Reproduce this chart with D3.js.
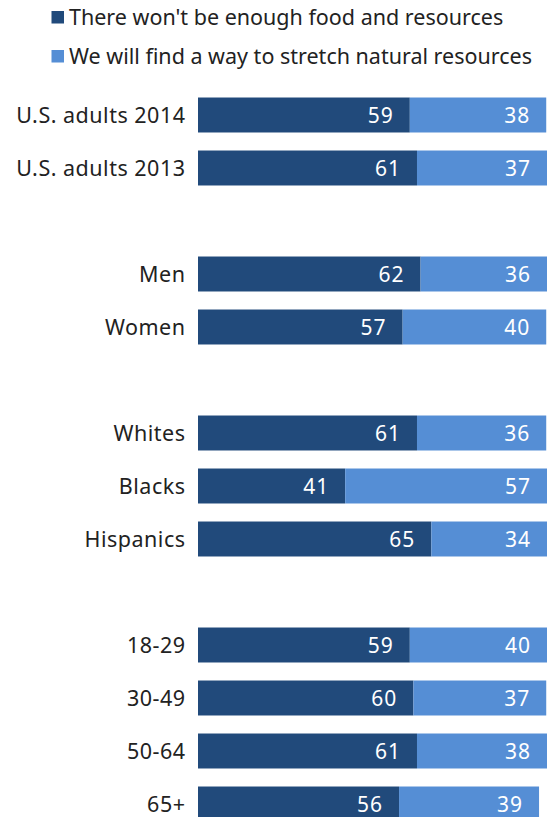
<!DOCTYPE html>
<html><head><meta charset="utf-8">
<script src="https://cdn.jsdelivr.net/npm/d3@7"></script>
<style>body{margin:0;background:#fff}svg{display:block}</style>
</head><body>
<svg id="c" width="547" height="817"></svg>
<script>
const categories = ["U.S. adults 2014","U.S. adults 2013","","Men","Women","","Whites","Blacks","Hispanics","","18-29","30-49","50-64","65+"];
const notEnough = [59,61,null,62,57,null,61,41,65,null,59,60,61,56];
const findWay   = [38,37,null,36,40,null,36,57,34,null,40,37,38,39];
const seriesNames = ["There won't be enough food and resources","We will find a way to stretch natural resources"];
const colors = ["#214a7b","#558ed5"];

const svg = d3.select("#c");
const font = "Noto Sans, sans-serif";
const x = d3.scaleLinear().domain([0,100]).range([198,198+359]);
const y = d3.scaleBand().domain(d3.range(categories.length)).range([88.5, 88.5+53*categories.length]).paddingInner(0.34).paddingOuter(0.17);

// legend
const lg = svg.append("g");
seriesNames.forEach((n,i)=>{
  const yy = 17.5 + i*39;
  lg.append("rect").attr("x",51.5).attr("y",yy-6.5).attr("width",12.5).attr("height",12.5).attr("fill",colors[i]);
  lg.append("text").attr("x",69).attr("y",yy).attr("dy","0.36em").attr("font-family",font).attr("font-size",21.5).attr("fill","#222").text(n);
});

const rows = categories.map((c,i)=>({c,i,a:notEnough[i],b:findWay[i]})).filter(d=>d.a!=null);
const g = svg.append("g");
rows.forEach(d=>{
  const top = y(d.i), h = y.bandwidth();
  g.append("rect").attr("x",x(0)).attr("y",top).attr("width",x(d.a)-x(0)).attr("height",h).attr("fill",colors[0]);
  g.append("rect").attr("x",x(d.a)).attr("y",top).attr("width",x(d.a+d.b)-x(d.a)).attr("height",h).attr("fill",colors[1]);
  g.append("text").attr("x",185.5).attr("y",top+h/2).attr("dy","0.36em").attr("text-anchor","end")
    .attr("font-family",font).attr("font-size",21.5).attr("letter-spacing",0.5).attr("fill","#222").text(d.c);
  g.append("text").attr("x",x(d.a)-16).attr("y",top+h/2).attr("dy","0.36em").attr("text-anchor","end")
    .attr("font-family",font).attr("font-size",21).attr("letter-spacing",1).attr("fill","#fff").text(d.a);
  g.append("text").attr("x",Math.min(x(d.a+d.b),547)-16).attr("y",top+h/2).attr("dy","0.36em").attr("text-anchor","end")
    .attr("font-family",font).attr("font-size",21).attr("letter-spacing",1).attr("fill","#fff").text(d.b);
});
</script>
</body></html>
